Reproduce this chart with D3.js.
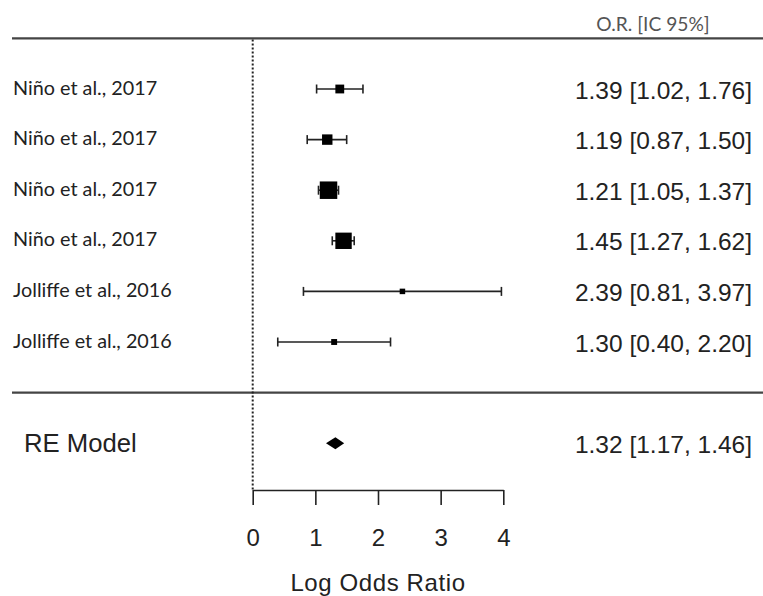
<!DOCTYPE html>
<html>
<head>
<meta charset="utf-8">
<script src="https://cdn.jsdelivr.net/npm/d3@7"></script>
<style>
  html, body { margin: 0; padding: 0; background: #fff; }
  svg { display: block; }
</style>
</head>
<body>
<svg id="chart" width="763" height="596"></svg>
<script>
// ---- data ----
const studies = [
  "Niño et al., 2017",
  "Niño et al., 2017",
  "Niño et al., 2017",
  "Niño et al., 2017",
  "Jolliffe et al., 2016",
  "Jolliffe et al., 2016"
];
const estimates = [1.39, 1.19, 1.21, 1.45, 2.39, 1.30];
const lowerCI   = [1.02, 0.87, 1.05, 1.27, 0.81, 0.40];
const upperCI   = [1.76, 1.50, 1.37, 1.62, 3.97, 2.20];
const weights   = [11, 16, 38, 34.5, 0.7, 2.0];   // estimated study weights (%)
const summaryLabel = "RE Model";
const summaryValues = [1.32, 1.17, 1.46];          // estimate, lower, upper
const xTicks = [0, 1, 2, 3, 4];
const headerText = "O.R. [IC 95%]";
const axisTitle = "Log Odds Ratio";

// ---- layout ----
const svg = d3.select("#chart");
const W = 763, H = 596;
svg.append("rect").attr("width", W).attr("height", H).attr("fill", "#fff");

const k = studies.length;
const x = d3.scaleLinear().domain([0, 4]).range([252.7, 503.3]);
const y = d3.scaleLinear().domain([k + 1, -1]).range([38.4, 443.2]);
const size = d3.scaleLinear().domain(d3.extent(weights)).range([5.5, 17.5]);

const rows = studies.map((s, i) => ({
  label: s, est: estimates[i], lb: lowerCI[i], ub: upperCI[i], w: weights[i], row: k - i
}));

const ink = "#222";
const labelFont = "Lato, 'Open Sans', sans-serif";
const numFont = "'Liberation Sans', Arial, sans-serif";
const axisY = 490;

// header
svg.append("text")
  .attr("x", 653).attr("y", 31)
  .attr("text-anchor", "middle")
  .attr("font-family", labelFont).attr("font-size", 19.2)
  .attr("fill", "#555")
  .text(headerText);

// horizontal rules
[k + 1, 0].forEach(r => {
  svg.append("line")
    .attr("x1", 12).attr("x2", W)
    .attr("y1", y(r)).attr("y2", y(r))
    .attr("stroke", "#444").attr("stroke-width", 2.4);
});

// reference (dotted) line at 0
svg.append("line")
  .attr("x1", x(0)).attr("x2", x(0))
  .attr("y1", y(k + 1) + 1).attr("y2", axisY)
  .attr("stroke", ink).attr("stroke-width", 2)
  .attr("stroke-dasharray", "2,2");

// study rows
const g = svg.append("g");
const rowG = g.selectAll("g.row").data(rows).join("g").attr("class", "row");

rowG.append("text")
  .attr("x", 13).attr("y", d => y(d.row) + 5.5)
  .attr("font-family", labelFont).attr("font-size", 19.8)
  .attr("fill", ink)
  .text(d => d.label);

rowG.append("line")
  .attr("x1", d => x(d.lb)).attr("x2", d => x(d.ub))
  .attr("y1", d => y(d.row)).attr("y2", d => y(d.row))
  .attr("stroke", ink).attr("stroke-width", 1.6);

rowG.selectAll("line.cap")
  .data(d => [{v: d.lb, row: d.row}, {v: d.ub, row: d.row}])
  .join("line").attr("class", "cap")
  .attr("x1", d => x(d.v)).attr("x2", d => x(d.v))
  .attr("y1", d => y(d.row) - 4.5).attr("y2", d => y(d.row) + 4.5)
  .attr("stroke", ink).attr("stroke-width", 1.6);

rowG.append("rect")
  .attr("x", d => x(d.est) - size(d.w) / 2)
  .attr("y", d => y(d.row) - size(d.w) / 2)
  .attr("width", d => size(d.w)).attr("height", d => size(d.w))
  .attr("fill", "#000");

rowG.append("text")
  .attr("x", 752).attr("y", d => y(d.row) + 9.5)
  .attr("text-anchor", "end")
  .attr("font-family", numFont).attr("font-size", 24.5)
  .attr("fill", ink)
  .text(d => `${d.est.toFixed(2)} [${d.lb.toFixed(2)}, ${d.ub.toFixed(2)}]`);

// summary row
const sy = y(-1);
svg.append("text")
  .attr("x", 24).attr("y", sy + 9)
  .attr("font-family", numFont).attr("font-size", 25.7)
  .attr("fill", ink)
  .text(summaryLabel);

const [sEst, sLb, sUb] = summaryValues;
svg.append("path")
  .attr("d", `M${x(sLb)},${sy}L${x(sEst)},${sy - 6}L${x(sUb)},${sy}L${x(sEst)},${sy + 6}Z`)
  .attr("fill", "#000");

svg.append("text")
  .attr("x", 752).attr("y", sy + 9.5)
  .attr("text-anchor", "end")
  .attr("font-family", numFont).attr("font-size", 24.5)
  .attr("fill", ink)
  .text(`${sEst.toFixed(2)} [${sLb.toFixed(2)}, ${sUb.toFixed(2)}]`);

// x axis
const axis = d3.axisBottom(x).tickValues(xTicks).tickFormat(d3.format("d"))
  .tickSize(15).tickSizeOuter(0).tickPadding(24);
const ax = svg.append("g").attr("transform", `translate(0,${axisY})`).call(axis);
ax.select(".domain").attr("stroke", ink).attr("stroke-width", 1.6);
ax.selectAll(".tick line").attr("stroke", ink).attr("stroke-width", 1.6);
ax.selectAll(".tick text")
  .attr("font-family", numFont).attr("font-size", 24).attr("fill", ink);

svg.append("text")
  .attr("x", x(2)).attr("y", 591)
  .attr("text-anchor", "middle")
  .attr("font-family", numFont).attr("font-size", 24)
  .attr("letter-spacing", 0.6)
  .attr("fill", ink)
  .text(axisTitle);
</script>
</body>
</html>
